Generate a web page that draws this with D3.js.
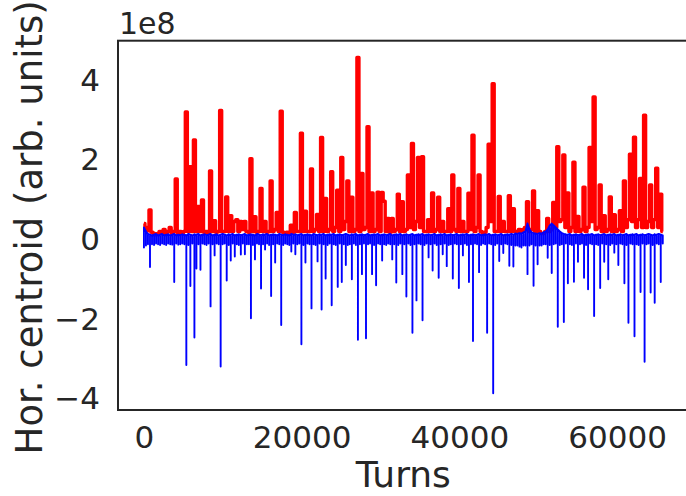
<!DOCTYPE html>
<html>
<head>
<meta charset="utf-8">
<script src="https://cdn.jsdelivr.net/npm/d3@7"></script>
<style>
  body { margin: 0; background: #fff; }
  text { font-family: "DejaVu Sans", sans-serif; fill: #262626; }
</style>
</head>
<body>
<div id="chart"></div>
<script>
// samples are one every 256 turns
var turnStep = 256;

// red trace (1e8 arb. units)
var redValues = [
  0.40, 0.30, 0.22, 0.74, 0.18, 0.15, 0.12, 0.15, 0.20, 0.15,
  0.25, 0.15, 0.20, 0.30, 0.15, 0.20, 1.52, 0.15, 0.20, 0.15,
  0.20, 3.20, 0.20, 1.83, 0.20, 2.50, 0.20, 0.83, 0.20, 0.99,
  0.18, 0.20, 0.15, 1.72, 0.20, 0.47, 0.18, 0.20, 3.24, 0.20,
  0.20, 1.07, 0.20, 0.60, 0.20, 0.45, 0.50, 0.20, 0.45, 0.25,
  0.45, 0.20, 0.18, 2.03, 0.20, 0.57, 0.18, 0.20, 1.28, 0.20,
  0.45, 0.18, 0.20, 1.47, 0.20, 0.25, 0.68, 0.20, 3.22, 0.18,
  0.15, 0.18, 0.15, 0.36, 0.18, 0.68, 0.20, 0.20, 2.67, 0.20,
  0.71, 0.20, 0.20, 1.77, 0.20, 0.25, 0.63, 0.20, 2.56, 0.20,
  1.03, 0.20, 0.25, 1.70, 0.20, 0.30, 1.24, 0.20, 2.06, 0.25,
  0.45, 1.47, 0.20, 1.06, 0.20, 0.25, 4.57, 0.20, 1.66, 0.25,
  0.30, 2.83, 0.20, 1.17, 0.20, 0.25, 1.19, 0.20, 1.18, 0.96,
  0.20, 0.53, 0.18, 0.53, 0.20, 0.25, 1.14, 0.20, 0.95, 0.20,
  0.25, 1.62, 0.30, 2.41, 0.25, 0.45, 2.06, 0.30, 2.08, 0.20,
  0.20, 0.50, 0.20, 1.17, 0.20, 0.25, 1.06, 0.20, 0.45, 0.20,
  0.20, 0.77, 0.20, 1.62, 0.25, 0.20, 1.28, 0.20, 0.45, 0.20,
  0.20, 1.16, 0.25, 2.62, 0.20, 0.30, 1.62, 0.20, 0.15, 0.18,
  0.30, 2.39, 0.45, 3.91, 0.20, 0.20, 1.08, 0.20, 0.45, 0.20,
  0.20, 1.10, 0.20, 0.77, 0.20, 0.18, 0.25, 0.20, 0.25, 0.30,
  0.95, 0.20, 0.25, 1.22, 0.20, 0.72, 0.20, 0.15, 0.15, 0.20,
  0.53, 0.20, 0.25, 0.93, 0.30, 2.33, 0.45, 0.50, 2.12, 0.30,
  1.17, 0.20, 0.30, 1.94, 0.20, 0.58, 0.20, 0.25, 1.31, 0.20,
  0.30, 2.31, 0.45, 3.58, 0.25, 0.30, 1.37, 0.20, 0.60, 0.20,
  0.25, 1.07, 0.20, 0.62, 0.20, 0.25, 0.72, 0.20, 1.47, 0.30,
  0.50, 2.14, 0.45, 2.57, 0.30, 0.50, 1.53, 0.30, 3.12, 0.30,
  0.45, 1.37, 0.30, 0.50, 1.79, 0.30, 1.14, 0.20
];

// blue trace: lowest value reached in each 256-turn bin (1e8 arb. units)
var blueMin = [
  -0.20, -0.15, -0.12, -0.69, -0.12, -0.14, -0.10, -0.12, -0.14, -0.10,
  -0.12, -0.14, -0.10, -0.12, -0.13, -1.07, -0.10, -0.13, -0.12, -0.10,
  -0.12, -3.15, -0.14, -1.17, -0.10, -2.46, -0.73, -0.12, -0.76, -0.10,
  -0.12, -0.14, -0.10, -1.68, -0.12, -0.40, -0.10, -0.12, -3.19, -0.12,
  -0.10, -1.03, -0.14, -0.53, -0.10, -0.43, -0.12, -0.14, -0.38, -0.10,
  -0.37, -0.12, -0.12, -1.98, -0.14, -0.50, -0.10, -0.12, -1.23, -0.12,
  -0.25, -0.10, -0.14, -1.42, -0.12, -0.58, -0.10, -0.12, -2.15, -0.14,
  -0.10, -0.12, -0.14, -0.30, -0.10, -0.37, -0.12, -0.10, -2.63, -0.14,
  -0.58, -0.10, -0.12, -1.73, -0.12, -0.14, -0.55, -0.10, -1.76, -0.12,
  -0.98, -0.14, -0.10, -1.65, -0.12, -0.14, -1.19, -0.10, -1.07, -0.12,
  -0.64, -0.14, -0.12, -1.00, -0.10, -0.14, -2.52, -0.12, -0.87, -0.10,
  -2.48, -0.12, -0.10, -0.87, -0.14, -1.15, -0.10, -0.12, -0.53, -0.12,
  -0.14, -0.10, -0.12, -0.50, -0.12, -1.08, -0.14, -0.10, -0.87, -0.12,
  -1.43, -0.10, -0.14, -2.34, -0.12, -1.53, -0.10, -0.12, -2.03, -0.14,
  -0.10, -0.45, -0.12, -0.78, -0.10, -0.14, -0.96, -0.12, -0.37, -0.10,
  -0.67, -0.14, -0.12, -0.98, -0.10, -0.12, -1.22, -0.12, -0.40, -0.10,
  -0.14, -1.07, -0.12, -2.55, -0.10, -0.12, -0.82, -0.14, -0.10, -0.12,
  -2.34, -0.10, -0.12, -3.86, -0.14, -0.10, -0.54, -0.12, -0.34, -0.10,
  -0.12, -0.66, -0.14, -0.68, -0.15, -0.15, -0.18, -0.20, -0.15, -0.15,
  -0.87, -0.15, -0.12, -1.16, -0.15, -0.62, -0.15, -0.15, -0.12, -0.12,
  -0.46, -0.14, -0.84, -0.12, -0.10, -2.19, -0.14, -0.12, -2.07, -0.10,
  -1.10, -0.12, -0.14, -1.06, -0.10, -0.56, -0.12, -0.10, -0.96, -0.14,
  -1.25, -0.10, -0.12, -1.92, -0.12, -0.14, -1.22, -0.10, -0.56, -0.12,
  -1.00, -0.14, -0.10, -0.33, -0.12, -0.64, -0.10, -0.12, -1.10, -0.14,
  -2.09, -0.10, -0.12, -2.43, -0.12, -0.14, -1.32, -0.10, -3.07, -0.12,
  -0.10, -1.33, -0.14, -1.59, -0.10, -0.12, -1.07, -0.10
];

// blue trace: highest value reached in each 256-turn bin
var blueMax = [
  0.30, 0.20, 0.14, 0.12, 0.10, 0.12, 0.14, 0.10, 0.12, 0.14,
  0.10, 0.12, 0.13, 0.10, 0.12, 0.14, 0.10, 0.12, 0.11, 0.13,
  0.12, 0.10, 0.14, 0.12, 0.10, 0.13, 0.12, 0.14, 0.10, 0.12,
  0.13, 0.11, 0.12, 0.14, 0.10, 0.12, 0.13, 0.10, 0.12, 0.14,
  0.12, 0.10, 0.13, 0.12, 0.14, 0.10, 0.12, 0.13, 0.11, 0.12,
  0.14, 0.10, 0.12, 0.13, 0.12, 0.10, 0.14, 0.12, 0.11, 0.13,
  0.12, 0.14, 0.10, 0.12, 0.13, 0.12, 0.10, 0.14, 0.12, 0.11,
  0.13, 0.12, 0.10, 0.14, 0.12, 0.13, 0.11, 0.12, 0.14, 0.10,
  0.12, 0.13, 0.12, 0.10, 0.14, 0.12, 0.11, 0.13, 0.12, 0.14,
  0.10, 0.12, 0.13, 0.12, 0.14, 0.10, 0.12, 0.13, 0.11, 0.12,
  0.14, 0.12, 0.10, 0.13, 0.12, 0.14, 0.10, 0.12, 0.13, 0.11,
  0.12, 0.14, 0.10, 0.12, 0.13, 0.12, 0.14, 0.10, 0.12, 0.13,
  0.11, 0.12, 0.14, 0.10, 0.12, 0.13, 0.12, 0.14, 0.10, 0.12,
  0.13, 0.11, 0.12, 0.14, 0.10, 0.12, 0.13, 0.12, 0.14, 0.10,
  0.12, 0.13, 0.11, 0.12, 0.14, 0.10, 0.12, 0.13, 0.12, 0.14,
  0.10, 0.12, 0.13, 0.11, 0.12, 0.14, 0.10, 0.12, 0.13, 0.12,
  0.14, 0.10, 0.12, 0.13, 0.11, 0.12, 0.14, 0.10, 0.12, 0.13,
  0.12, 0.14, 0.10, 0.12, 0.13, 0.11, 0.12, 0.14, 0.10, 0.12,
  0.13, 0.12, 0.14, 0.12, 0.15, 0.14, 0.16, 0.15, 0.18, 0.20,
  0.40, 0.25, 0.18, 0.16, 0.15, 0.14, 0.16, 0.15, 0.18, 0.20,
  0.25, 0.35, 0.40, 0.35, 0.30, 0.25, 0.20, 0.16, 0.14, 0.13,
  0.12, 0.14, 0.10, 0.12, 0.13, 0.11, 0.12, 0.14, 0.10, 0.12,
  0.13, 0.12, 0.14, 0.10, 0.12, 0.13, 0.11, 0.12, 0.14, 0.10,
  0.12, 0.13, 0.12, 0.14, 0.10, 0.12, 0.13, 0.11, 0.12, 0.14,
  0.10, 0.12, 0.13, 0.12, 0.14, 0.10, 0.12, 0.13, 0.11, 0.12,
  0.14, 0.12, 0.10, 0.13, 0.12, 0.14, 0.12, 0.10
];

var xTicks = [0, 20000, 40000, 60000];
var yTicks = [-4, -2, 0, 2, 4];

var width = 686, height = 496;
var margin = { top: 40.7, right: -2.7, bottom: 86, left: 118 };
var plotW = width - margin.left - margin.right;
var plotH = height - margin.top - margin.bottom;

var turns = redValues.map(function(v, i) { return i * turnStep; });

// matplotlib-style 5% margins around the data
var xMax = turns[turns.length - 1];
var yLo = d3.min(blueMin), yHi = d3.max(redValues);
var xPad = xMax * 0.05, yPad = (yHi - yLo) * 0.05;

var x = d3.scaleLinear().domain([-xPad, xMax + xPad]).range([0, plotW]);
var y = d3.scaleLinear().domain([yLo - yPad, yHi + yPad]).range([plotH, 0]);

var svg = d3.select('#chart').append('svg')
    .attr('width', width).attr('height', height);
var g = svg.append('g')
    .attr('transform', 'translate(' + margin.left + ',' + margin.top + ')');

// red: step curve so each sample reads as a flat-topped bar like the thick original trace
var redLine = d3.line()
    .x(function(d) { return x(d[0]); })
    .y(function(d) { return y(d[1]); })
    .curve(d3.curveStep);

var blueLine = d3.line()
    .x(function(d) { return x(d[0]); })
    .y(function(d) { return y(d[1]); });

// blue: in each bin go from the top of the band down to the bin minimum and back
var bluePts = [];
turns.forEach(function(t, i) {
  bluePts.push([t, blueMax[i]], [t, blueMin[i]], [t, blueMax[i]]);
});

g.append('path')
    .datum(turns.map(function(t, i) { return [t, redValues[i]]; }))
    .attr('d', redLine)
    .attr('fill', 'none')
    .attr('stroke', '#ff0000')
    .attr('stroke-width', 3.4)
    .attr('stroke-linejoin', 'round');

g.append('path')
    .datum(bluePts)
    .attr('d', blueLine)
    .attr('fill', 'none')
    .attr('stroke', '#0000ff')
    .attr('stroke-width', 1.9)
    .attr('stroke-linejoin', 'round');

// axes without tick marks (seaborn white style)
var xAxis = g.append('g')
    .attr('transform', 'translate(0,' + plotH + ')')
    .call(d3.axisBottom(x).tickValues(xTicks).tickSize(0).tickPadding(16).tickFormat(d3.format('d')));
var yAxis = g.append('g')
    .call(d3.axisLeft(y).tickValues(yTicks).tickSize(0).tickPadding(18)
      .tickFormat(function(d) { return d < 0 ? '\u2212' + Math.abs(d) : d; }));

[xAxis, yAxis].forEach(function(ax) {
  ax.select('.domain').remove();
  ax.selectAll('text').attr('font-size', '31px').style('font-family', '"DejaVu Sans", sans-serif').attr('fill', '#262626');
});
xAxis.selectAll('text').attr('dy', '0.71em');

// frame
g.append('rect')
    .attr('x', 0).attr('y', 0).attr('width', plotW).attr('height', plotH)
    .attr('fill', 'none').attr('stroke', '#262626').attr('stroke-width', 2);

// offset text
svg.append('text')
    .attr('x', margin.left + 1).attr('y', 34)
    .attr('font-size', '30px')
    .text('1e8');

svg.append('text')
    .attr('x', margin.left + plotW / 2).attr('y', 487)
    .attr('text-anchor', 'middle')
    .attr('font-size', '36px')
    .text('Turns');

svg.append('text')
    .attr('transform', 'translate(42,' + (margin.top + plotH / 2 + 2) + ') rotate(-90)')
    .attr('text-anchor', 'middle')
    .attr('font-size', '37px')
    .text('Hor. centroid (arb. units)');
</script>
</body>
</html>
